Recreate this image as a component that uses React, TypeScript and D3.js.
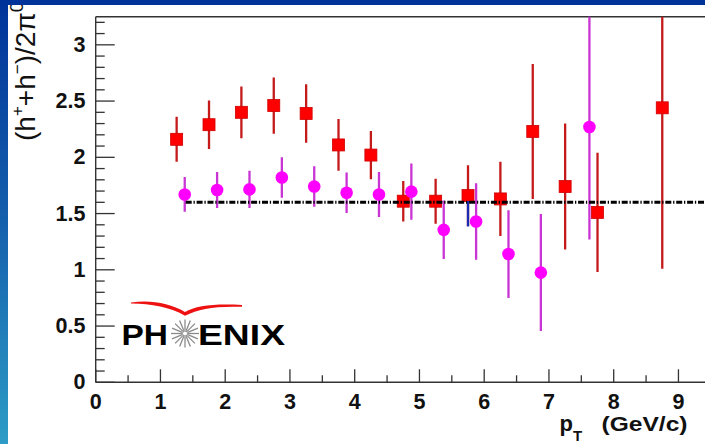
import React from "react";
import * as d3 from "d3";

// ---- data ----
const redX = [1.25, 1.75, 2.25, 2.75, 3.25, 3.75, 4.25, 4.75, 5.25, 5.75, 6.25, 6.75, 7.25, 7.75, 8.75];
const redY = [2.16, 2.29, 2.40, 2.46, 2.39, 2.11, 2.02, 1.61, 1.61, 1.66, 1.63, 2.23, 1.74, 1.51, 2.44];
const redErr = [0.2, 0.215, 0.23, 0.25, 0.26, 0.23, 0.215, 0.18, 0.2, 0.27, 0.33, 0.6, 0.56, 0.53, 1.43];

const magX = [1.375, 1.875, 2.375, 2.875, 3.375, 3.875, 4.375, 4.875, 5.375, 5.875, 6.375, 6.875, 7.625];
const magY = [1.67, 1.71, 1.715, 1.82, 1.74, 1.685, 1.67, 1.695, 1.355, 1.43, 1.14, 0.975, 2.27];
const magErr = [0.155, 0.16, 0.165, 0.18, 0.18, 0.18, 0.2, 0.25, 0.26, 0.34, 0.39, 0.52, 1.0];

const blueX = [5.75];
const blueY = [1.665];
const blueErrLow = [0.28];

const fitLevel = 1.6;
const fitStart = 1.39;

const xMajorTicks = [0, 1, 2, 3, 4, 5, 6, 7, 8, 9, 10];
const xLabelTicks = [0, 1, 2, 3, 4, 5, 6, 7, 8, 9];
const yMajorTicks = [0, 0.5, 1, 1.5, 2, 2.5, 3];

const W = 705;
const H = 444;
const FONT = "'Liberation Sans', Arial, Helvetica, sans-serif";

export default function App() {
  const x = d3.scaleLinear().domain([0, 10]).range([95.7, 743.2]);
  const y = d3.scaleLinear().domain([0, 3.25]).range([382.3, 16.7]);
  const [x0] = x.range();
  const [yb, yt] = y.range();

  const xMinor = d3.range(0.5, 10, 1);
  const yMinor = d3.range(0, 3.2501, 0.1).filter((v) => Math.abs(v * 2 - Math.round(v * 2)) > 1e-6);
  const fmt = d3.format("~g");

  const red = redX.map((v, i) => ({ x: v, y: redY[i], e: redErr[i] }));
  const mag = magX.map((v, i) => ({ x: v, y: magY[i], e: magErr[i] }));
  const blue = blueX.map((v, i) => ({ x: v, y: blueY[i], e: blueErrLow[i] }));

  const fitLine = d3.line<[number, number]>().x((d) => x(d[0])).y((d) => y(d[1]));

  // logo starburst
  const cx = 185, cy = 333.5;
  const spokes = d3.range(16).map((i) => (i * Math.PI * 2) / 16);

  return (
    <div style={{ position: "fixed", left: 0, top: 0 }}>
      <svg width={W} height={H} style={{ display: "block" }}>
        <defs>
          <linearGradient id="bg" x1="0" y1="0" x2="0" y2="1">
            <stop offset="0" stopColor="#003399" />
            <stop offset="0.5" stopColor="#1560ad" />
            <stop offset="1" stopColor="#2d9cc6" />
          </linearGradient>
          <clipPath id="plot">
            <rect x={x0} y={yt} width={W - x0} height={yb - yt} />
          </clipPath>
        </defs>
        <rect x={0} y={0} width={W} height={H} fill="url(#bg)" />
        <rect x={8} y={5} width={W - 8} height={H - 5} fill="#ffffff" />

        {/* frame */}
        <g stroke="#333" strokeWidth={1.4} fill="none">
          <line x1={x0} y1={yt} x2={W} y2={yt} />
          <line x1={x0} y1={yt} x2={x0} y2={yb} />
          <line x1={x0} y1={yb} x2={W} y2={yb} />
        </g>

        {/* ticks */}
        <g stroke="#333" strokeWidth={1.3}>
          {yMajorTicks.map((t) => (
            <line key={"ym" + t} x1={x0} x2={x0 + 19} y1={y(t)} y2={y(t)} />
          ))}
          {yMinor.map((t) => (
            <line key={"yn" + t} x1={x0} x2={x0 + 9} y1={y(t)} y2={y(t)} />
          ))}
          {xMajorTicks.map((t) => (
            <line key={"xm" + t} x1={x(t)} x2={x(t)} y1={yb} y2={yb - 13} />
          ))}
          {xMinor.map((t) => (
            <line key={"xn" + t} x1={x(t)} x2={x(t)} y1={yb} y2={yb - 7} />
          ))}
        </g>

        {/* tick labels */}
        <g fontFamily={FONT} fontWeight="bold" fontSize={21.5} fill="#111">
          {yMajorTicks.map((t) => (
            <text key={"yl" + t} x={85.5} y={y(t)} textAnchor="end" dominantBaseline="central">
              {fmt(t)}
            </text>
          ))}
          {xLabelTicks.map((t) => (
            <text key={"xl" + t} x={x(t)} y={409} textAnchor="middle">
              {fmt(t)}
            </text>
          ))}
        </g>

        {/* x title */}
        <g fontFamily={FONT} fontWeight="bold" fill="#111">
          <text x={559.5} y={431} fontSize={22}>p</text>
          <text x={573} y={441} fontSize={15}>T</text>
          <text x={601.5} y={431} fontSize={21} textLength={86} lengthAdjust="spacingAndGlyphs">
            (GeV/c)
          </text>
        </g>

        {/* y title */}
        <text
          transform="translate(34.5,141) rotate(-90)"
          fontFamily={FONT}
          fontSize={28}
          fill="#111"
        >
          <tspan>(h</tspan>
          <tspan fontSize={17} dy={-12}>+</tspan>
          <tspan fontSize={28} dy={12}>+h</tspan>
          <tspan fontSize={17} dy={-12}>−</tspan>
          <tspan fontSize={28} dy={12}>)/2π</tspan>
          <tspan fontSize={19} dy={-12}>0</tspan>
        </text>
        {/* top slide strip covers the title's end */}
        <rect x={0} y={0} width={W} height={5} fill="#003399" />

        {/* PHENIX logo */}
        <path
          d="M131,302.5 C150,299.5 170,303 185,312 C196,305.5 215,303.5 242,305 L242,306.8 C215,306 199,308.5 185,315.8 C171,307.5 150,303.5 131,303.6 Z"
          fill="#ee1111"
        />
        <g stroke="#8a8a8a" strokeWidth={1.3}>
          {spokes.map((a, i) => (
            <line
              key={"sp" + i}
              x1={cx + 3 * Math.cos(a)}
              y1={cy + 3 * Math.sin(a)}
              x2={cx + 14 * Math.cos(a)}
              y2={cy + 14 * Math.sin(a)}
            />
          ))}
        </g>
        <circle cx={cx} cy={cy} r={2.5} fill="#fff" stroke="#8a8a8a" strokeWidth={1} />
        <g fontFamily={FONT} fontWeight="bold" fontSize={30} fill="#000">
          <text x={121.5} y={345} textLength={46.5} lengthAdjust="spacingAndGlyphs">PH</text>
          <text x={198} y={345} textLength={87} lengthAdjust="spacingAndGlyphs">ENIX</text>
        </g>

        {/* data */}
        <g clipPath="url(#plot)">
          {red.map((d, i) => (
            <line
              key={"re" + i}
              x1={x(d.x)}
              x2={x(d.x)}
              y1={y(d.y - d.e)}
              y2={y(d.y + d.e)}
              stroke="#c41a1a"
              strokeWidth={2.3}
            />
          ))}
          {red.map((d, i) => (
            <rect
              key={"rs" + i}
              x={x(d.x) - 6}
              y={y(d.y) - 6}
              width={12}
              height={12}
              fill="#ff0000"
              stroke="#d00000"
              strokeWidth={0.8}
            />
          ))}
          {blue.map((d, i) => (
            <line
              key={"be" + i}
              x1={x(d.x)}
              x2={x(d.x)}
              y1={y(d.y) + 6}
              y2={y(d.y - d.e)}
              stroke="#1a2bb0"
              strokeWidth={2.3}
            />
          ))}
          {mag.map((d, i) => (
            <line
              key={"me" + i}
              x1={x(d.x)}
              x2={x(d.x)}
              y1={y(d.y - d.e)}
              y2={y(d.y + d.e)}
              stroke="#c935d4"
              strokeWidth={2.3}
            />
          ))}
          {mag.map((d, i) => (
            <circle key={"mc" + i} cx={x(d.x)} cy={y(d.y)} r={6.3} fill="#ff00ff" />
          ))}
          <path
            d={fitLine([
              [fitStart, fitLevel],
              [10, fitLevel],
            ]) || ""}
            stroke="#000"
            strokeWidth={3}
            strokeDasharray="6 1.8 1.3 1.8"
            fill="none"
          />
        </g>
      </svg>
    </div>
  );
}
